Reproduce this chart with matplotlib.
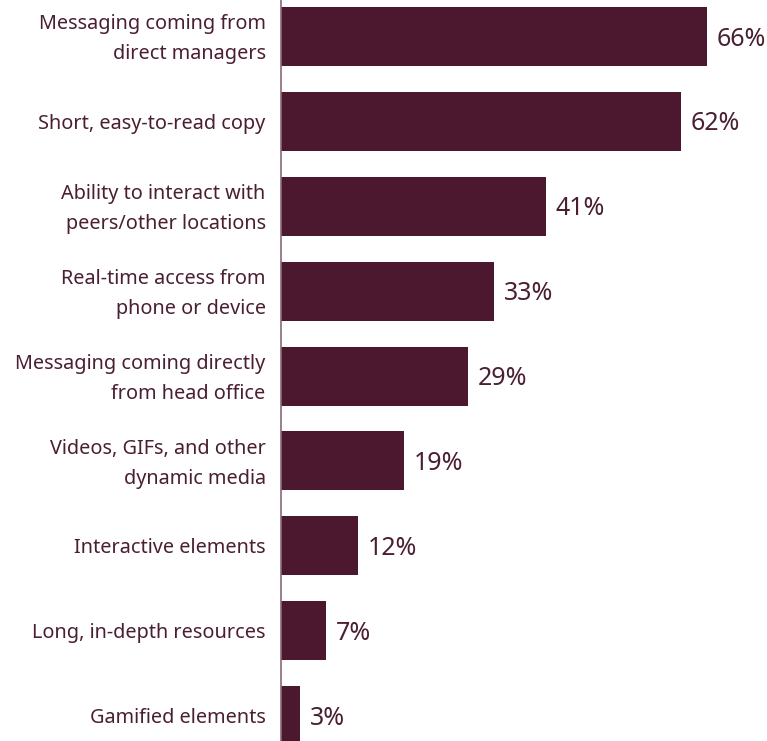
import matplotlib.pyplot as plt
from matplotlib.transforms import ScaledTranslation

# survey results: preferred features of internal communications
labels = [
    "Messaging coming from\ndirect managers",
    "Short, easy-to-read copy",
    "Ability to interact with\npeers/other locations",
    "Real-time access from\nphone or device",
    "Messaging coming directly\nfrom head office",
    "Videos, GIFs, and other\ndynamic media",
    "Interactive elements",
    "Long, in-depth resources",
    "Gamified elements",
]
values = [66, 62, 41, 33, 29, 19, 12, 7, 3]

bar_color = "#4b1830"
text_color = "#4a1f33"

plt.rcParams['font.family'] = ['Noto Sans', 'DejaVu Sans']

fig = plt.figure(figsize=(7.67, 7.41), dpi=100)
ax = fig.add_axes([281 / 767, 0, 1 - 281 / 767, 1])

pos = list(range(len(values)))
ax.barh(pos, values, height=0.695, color=bar_color)

ax.set_ylim(8.30, -0.43)
ax.set_xlim(0, 75.3)

for y, v in zip(pos, values):
    ax.text(v + 1.5, y + 0.03, f"{v}%", va="center", ha="left",
            fontsize=18, color=text_color)

ax.set_yticks(pos)
ax.set_yticklabels(labels, fontsize=14.3, color=text_color, linespacing=1.68)
ax.tick_params(axis="y", length=0, pad=11)
ax.set_xticks([])

# two-line labels sit a bit low, lift them
shift = ScaledTranslation(0, 3.5 / 72, fig.dpi_scale_trans)
for t in ax.get_yticklabels():
    if "\n" in t.get_text():
        t.set_transform(t.get_transform() + shift)

for s in ["top", "right", "bottom"]:
    ax.spines[s].set_visible(False)
ax.spines["left"].set_color("#8a6a78")
ax.spines["left"].set_linewidth(1.2)

fig.savefig("out.png", dpi=100)
